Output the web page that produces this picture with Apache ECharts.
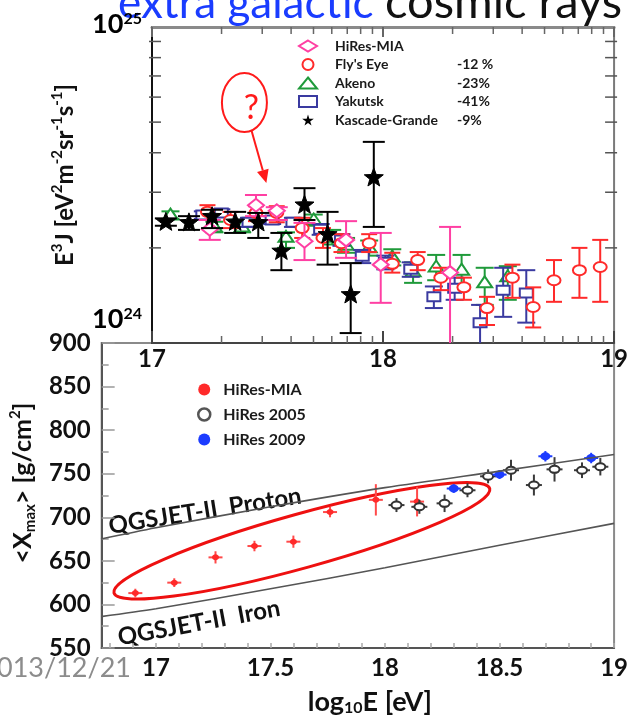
<!DOCTYPE html>
<html><head><meta charset="utf-8">
<script src="https://cdn.jsdelivr.net/npm/echarts@6/dist/echarts.min.js"></script>
<style>html,body{margin:0;padding:0;background:#fff;overflow:hidden}#c{width:631px;height:717px}</style>
</head><body><div id="c"></div><script>
const FONT = 'Lato, "Open Sans", "DejaVu Sans", sans-serif';

// ================= Top panel: E^3 J [eV^2 m^-2 sr^-1 s^-1] vs log10(E/eV) =================
const topXTicks = [17, 18, 19];
const topYTickValues = [1e24, 1e25];
const topYTickLabels = [['10', '24'], ['10', '25']];
const minorMultipliers = [2, 3, 4, 5, 6, 7, 8, 9];
const topDecadesX = [17, 18];

const legendNamesTop = ['HiRes-MIA', "Fly's Eye", 'Akeno', 'Yakutsk', 'Kascade-Grande'];
const legendShiftsTop = ['', '-12 %', '-23%', '-41%', '-9%'];

const hiresMiaX  = [17.25, 17.45, 17.54, 17.66, 17.84, 17.99, 18.29];
const hiresMiaY  = [2.29e24, 2.73e24, 2.62e24, 2.10e24, 2.12e24, 1.77e24, 1.67e24];
const hiresMiaLo = [2.12e24, 2.52e24, 2.45e24, 1.83e24, 1.86e24, 1.34e24, 0.98e24];
const hiresMiaHi = [2.45e24, 2.94e24, 2.69e24, 2.40e24, 2.43e24, 2.23e24, 2.33e24];

const flysEyeX  = [17.24, 17.34, 17.45, 17.54, 17.65, 17.74, 17.82, 17.94, 18.04, 18.15, 18.25, 18.35, 18.45, 18.56, 18.65, 18.74, 18.85, 18.94];
const flysEyeY  = [2.60e24, 2.45e24, 2.58e24, 2.58e24, 2.31e24, 2.15e24, 2.07e24, 2.07e24, 1.78e24, 1.83e24, 1.61e24, 1.50e24, 1.29e24, 1.61e24, 1.30e24, 1.58e24, 1.70e24, 1.74e24];
const flysEyeLo = [2.45e24, 2.31e24, 2.43e24, 2.41e24, 2.15e24, 2.00e24, 1.94e24, 1.94e24, 1.67e24, 1.70e24, 1.47e24, 1.37e24, 1.14e24, 1.39e24, 1.12e24, 1.35e24, 1.39e24, 1.35e24];
const flysEyeHi = [2.73e24, 2.60e24, 2.71e24, 2.71e24, 2.49e24, 2.31e24, 2.21e24, 2.21e24, 1.93e24, 1.94e24, 1.73e24, 1.61e24, 1.40e24, 1.77e24, 1.50e24, 1.83e24, 2.00e24, 2.12e24];

const akenoX  = [17.08, 17.27, 17.39, 17.58, 17.70, 17.78, 17.84, 17.94, 18.04, 18.13, 18.23, 18.34, 18.44, 18.54];
const akenoY  = [2.54e24, 2.33e24, 2.33e24, 2.16e24, 2.45e24, 2.16e24, 2.04e24, 2.00e24, 1.87e24, 1.68e24, 1.74e24, 1.70e24, 1.55e24, 1.62e24];
const akenoLo = [2.47e24, 2.24e24, 2.24e24, 2.00e24, 2.35e24, 2.05e24, 1.93e24, 1.89e24, 1.76e24, 1.55e24, 1.58e24, 1.53e24, 1.32e24, 1.37e24];
const akenoHi = [2.61e24, 2.42e24, 2.42e24, 2.24e24, 2.55e24, 2.28e24, 2.15e24, 2.11e24, 1.98e24, 1.80e24, 1.90e24, 1.90e24, 1.73e24, 1.75e24];

const yakutskX  = [17.22, 17.30, 17.42, 17.52, 17.61, 17.73, 17.82, 17.91, 18.01, 18.12, 18.22, 18.31, 18.42, 18.52, 18.62];
const yakutskY  = [2.54e24, 2.58e24, 2.41e24, 2.45e24, 2.41e24, 2.29e24, 2.12e24, 1.88e24, 1.80e24, 1.71e24, 1.40e24, 1.49e24, 1.16e24, 1.47e24, 1.44e24];
const yakutskLo = [2.47e24, 2.51e24, 2.33e24, 2.38e24, 2.33e24, 2.20e24, 2.03e24, 1.79e24, 1.71e24, 1.62e24, 1.29e24, 1.37e24, 0.98e24, 1.21e24, 1.16e24];
const yakutskHi = [2.61e24, 2.65e24, 2.49e24, 2.52e24, 2.49e24, 2.38e24, 2.21e24, 1.97e24, 1.89e24, 1.80e24, 1.51e24, 1.61e24, 1.32e24, 1.73e24, 1.70e24];

const kascadeX  = [17.06, 17.16, 17.26, 17.36, 17.46, 17.56, 17.66, 17.76, 17.86, 17.96];
const kascadeY  = [2.41e24, 2.40e24, 2.51e24, 2.41e24, 2.40e24, 1.95e24, 2.73e24, 2.20e24, 1.42e24, 3.33e24];
const kascadeLo = [2.35e24, 2.28e24, 2.31e24, 2.23e24, 2.15e24, 1.70e24, 2.45e24, 1.77e24, 1.075e24, 2.33e24];
const kascadeHi = [2.48e24, 2.52e24, 2.64e24, 2.60e24, 2.58e24, 2.23e24, 3.09e24, 2.60e24, 1.79e24, 4.33e24];

// ================= Bottom panel: <Xmax> [g/cm^2] vs log10(E/eV) =================
const xmaxTickLabels = [17, 17.5, 18, 18.5, 19];
const xmaxMinorTicks = [16.8, 16.9, 17.0, 17.1, 17.2, 17.3, 17.4, 17.5, 17.6, 17.7, 17.8, 17.9, 18.0, 18.1, 18.2, 18.3, 18.4, 18.5, 18.6, 18.7, 18.8, 18.9, 19.0];
const legendNamesBottom = ['HiRes-MIA', 'HiRes 2005', 'HiRes 2009'];

const miaXmaxX   = [16.91, 17.08, 17.26, 17.43, 17.60, 17.76, 17.96, 18.14];
const miaXmaxY   = [613, 625, 654, 667, 672, 706, 720, 718];
const miaXmaxErr = [5, 5, 7, 6, 7, 6, 18, 17];

const hr05X   = [18.05, 18.15, 18.26, 18.36, 18.45, 18.55, 18.65, 18.74, 18.86, 18.94];
const hr05Y   = [714, 712, 716, 731, 747, 754, 737, 755, 754, 758];
const hr05Err = [8, 8, 10, 8, 8, 12, 12, 14, 9, 10];

const hr09X   = [18.30, 18.50, 18.70, 18.90];
const hr09Y   = [733, 749, 770, 768];
const hr09Err = [5, 5, 6, 6];

const protonX = [16.76, 17.0, 17.5, 18.0, 18.5, 19.0];
const protonY = [675, 688, 712, 734, 753, 772];
const ironX   = [16.76, 17.0, 17.5, 18.0, 18.5, 19.0];
const ironY   = [586, 595, 618, 642, 668, 693];

// annotation anchors (data coordinates)
const questionCenter = [17.40, 5.77e24];
const arrowFrom = [17.43, 4.72e24];
const arrowTo = [17.495, 3.21e24];
const ellipseCenter = [17.637, 673];

function zip(...arrs) { return arrs[0].map((_, i) => arrs.map(a => a[i])); }

const COL = { mia: '#ff3fa3', fe: '#ff2a2a', ak: '#1f9a3a', yk: '#3a3aa0', kg: '#000000' };

function topSymbol(kind, cx, cy, color) {
  const st = { fill: '#fff', stroke: color, lineWidth: 2 };
  if (kind === 'diamond') return { type: 'polygon', shape: { points: [[cx, cy - 6.5], [cx + 8, cy], [cx, cy + 6.5], [cx - 8, cy]] }, style: st };
  if (kind === 'circle') return { type: 'ellipse', shape: { cx: cx, cy: cy, rx: 6.5, ry: 5 }, style: st };
  if (kind === 'triangle') return { type: 'polygon', shape: { points: [[cx, cy - 6.5], [cx + 7.5, cy + 4.5], [cx - 7.5, cy + 4.5]] }, style: st };
  if (kind === 'square') return { type: 'rect', shape: { x: cx - 6.5, y: cy - 4.5, width: 13, height: 9 }, style: st };
  const pts = [];
  for (let k = 0; k < 10; k++) {
    const r = k % 2 === 0 ? 10 : 4.2;
    const a = -Math.PI / 2 + k * Math.PI / 5;
    pts.push([cx + r * Math.cos(a), cy + r * Math.sin(a)]);
  }
  return { type: 'polygon', shape: { points: pts }, style: { fill: color, stroke: color, lineWidth: 1 } };
}

function makeTopRender(kind, color, cap) {
  return function (params, api) {
    const x = api.value(0);
    const c = api.coord([x, api.value(1)]);
    const lo = api.coord([x, api.value(2)]);
    const hi = api.coord([x, api.value(3)]);
    const st = { stroke: color, lineWidth: 2 };
    return { type: 'group', children: [
      { type: 'line', shape: { x1: c[0], y1: lo[1], x2: c[0], y2: hi[1] }, style: st },
      { type: 'line', shape: { x1: c[0] - cap, y1: lo[1], x2: c[0] + cap, y2: lo[1] }, style: st },
      { type: 'line', shape: { x1: c[0] - cap, y1: hi[1], x2: c[0] + cap, y2: hi[1] }, style: st },
      topSymbol(kind, c[0], c[1], color)
    ] };
  };
}

function makeXmaxRender(kind) {
  return function (params, api) {
    const x = api.value(0), y = api.value(1), e = api.value(2);
    const c = api.coord([x, y]);
    const lo = api.coord([x, y - e]);
    const hi = api.coord([x, y + e]);
    let barCol, hx, sym;
    if (kind === 'mia') {
      barCol = '#ff4a4a'; hx = 7;
      sym = { type: 'ellipse', shape: { cx: c[0], cy: c[1], rx: 3.5, ry: 3 }, style: { fill: '#ff2a2a' } };
    } else if (kind === 'hr05') {
      barCol = '#3a3a3a'; hx = 8;
      sym = { type: 'ellipse', shape: { cx: c[0], cy: c[1], rx: 5, ry: 3.5 }, style: { fill: '#fff', stroke: '#333', lineWidth: 2 } };
    } else {
      barCol = '#1c3cff'; hx = 7;
      sym = { type: 'ellipse', shape: { cx: c[0], cy: c[1], rx: 5, ry: 4 }, style: { fill: '#1c3cff' } };
    }
    const st = { stroke: barCol, lineWidth: 2 };
    return { type: 'group', children: [
      { type: 'line', shape: { x1: c[0], y1: lo[1], x2: c[0], y2: hi[1] }, style: st },
      { type: 'line', shape: { x1: c[0] - hx, y1: c[1], x2: c[0] + hx, y2: c[1] }, style: st },
      sym
    ] };
  };
}

// minor tick marks of the log axes of the top panel
const xMinorTickData = [];
topDecadesX.forEach(d => minorMultipliers.forEach(m => xMinorTickData.push([d + Math.log10(m), 2e24])));
const yMinorTickData = minorMultipliers.map(m => [18, m * 1e24]);

function renderXMinor(params, api) {
  const cs = params.coordSys;
  const px = api.coord([api.value(0), api.value(1)])[0];
  const st = { stroke: '#666', lineWidth: 1.5 };
  return { type: 'group', children: [
    { type: 'line', shape: { x1: px, y1: cs.y, x2: px, y2: cs.y + 7 }, style: st },
    { type: 'line', shape: { x1: px, y1: cs.y + cs.height, x2: px, y2: cs.y + cs.height - 7 }, style: st }
  ] };
}
function renderYMinor(params, api) {
  const cs = params.coordSys;
  const py = api.coord([api.value(0), api.value(1)])[1];
  const st = { stroke: '#555', lineWidth: 1.5 };
  return { type: 'group', children: [
    { type: 'line', shape: { x1: cs.x - 3, y1: py, x2: cs.x + 9, y2: py }, style: st },
    { type: 'line', shape: { x1: cs.x + cs.width + 3, y1: py, x2: cs.x + cs.width - 9, y2: py }, style: st }
  ] };
}

const starPath = 'path://M50,0 L61,35 L98,35 L68,57 L79,91 L50,70 L21,91 L32,57 L2,35 L39,35 Z';
const topIcons = ['diamond', 'circle', 'triangle', 'rect', starPath];
const topIconColors = [COL.mia, COL.fe, COL.ak, COL.yk, COL.kg];
const shiftOf = {};
legendNamesTop.forEach((n, i) => shiftOf[n] = legendShiftsTop[i]);

const chart = echarts.init(document.getElementById('c'), null, { renderer: 'canvas', width: 631, height: 717 });

const option = {
  animation: false,
  backgroundColor: '#fff',
  textStyle: { fontFamily: FONT },
  grid: [
    { left: 152, top: 27, width: 465, height: 316, show: true, borderColor: '#7a7a7a', borderWidth: 2, backgroundColor: 'transparent' },
    { left: 97, top: 343, width: 520, height: 305, show: true, borderColor: '#8a8a8a', borderWidth: 2, backgroundColor: 'transparent' }
  ],
  xAxis: [
    { type: 'value', gridIndex: 0, min: 17, max: 19, interval: 1, position: 'bottom',
      axisLine: { lineStyle: { color: '#444', width: 2 } },
      axisTick: { inside: true, length: 12, lineStyle: { color: '#444', width: 2 } },
      axisLabel: { fontSize: 24, fontWeight: 'bold', color: '#111', margin: 4, fontFamily: FONT },
      splitLine: { show: false } },
    { type: 'value', gridIndex: 0, min: 17, max: 19, interval: 1, position: 'top',
      axisLine: { lineStyle: { color: '#8a8a8a', width: 3 } },
      axisTick: { inside: true, length: 10, lineStyle: { color: '#666', width: 2 } },
      axisLabel: { show: false }, splitLine: { show: false } },
    { type: 'value', gridIndex: 1, min: 16.763, max: 19, position: 'bottom',
      axisLine: { lineStyle: { color: '#555', width: 2 } },
      axisTick: { inside: true, length: 5, customValues: xmaxMinorTicks, lineStyle: { color: '#aaa', width: 1.5 } },
      axisLabel: { customValues: xmaxTickLabels, fontSize: 24, fontWeight: 'bold', color: '#111', margin: 8, fontFamily: FONT,
                   formatter: v => String(v) },
      splitLine: { show: false },
      name: 'log{sub|10}E [eV]', nameLocation: 'middle', nameGap: 40,
      nameTextStyle: { fontSize: 27, fontWeight: 'bold', color: '#111', fontFamily: FONT, padding: [0, 0, 0, 24],
        rich: { sub: { fontSize: 16, fontWeight: 'bold', color: '#111', verticalAlign: 'bottom', padding: [12, 0, 0, 0] } } } }
  ],
  yAxis: [
    { type: 'log', logBase: 10, gridIndex: 0, min: topYTickValues[0], max: topYTickValues[1],
      axisLine: { lineStyle: { color: '#111', width: 2 } },
      axisTick: { show: false }, axisLabel: { show: false }, splitLine: { show: false }, minorTick: { show: false },
      name: 'E{sup|3}J [eV{sup|2}m{sup|-2}sr{sup|-1}s{sup|-1}]', nameLocation: 'middle', nameRotate: 90, nameGap: 72,
      nameTextStyle: { fontSize: 24, fontWeight: 'bold', color: '#111', fontFamily: FONT, lineHeight: 30, padding: [0, 0, 0, 20],
        rich: { sup: { fontSize: 15, fontWeight: 'bold', color: '#111', verticalAlign: 'top', lineHeight: 30 } } } },
    { type: 'value', gridIndex: 1, min: 550, max: 900, interval: 50,
      axisLine: { lineStyle: { color: '#555', width: 2 } },
      axisTick: { inside: true, length: 13, lineStyle: { color: '#999', width: 1.5 } },
      minorTick: { show: true, splitNumber: 2, length: 7, lineStyle: { color: '#999', width: 1.5 } },
      axisLabel: { fontSize: 24, fontWeight: 'bold', color: '#111', margin: 11, fontFamily: FONT },
      splitLine: { show: false },
      name: '<X{sub|max}> [g/cm{sup|2}]', nameLocation: 'middle', nameRotate: 90, nameGap: 56,
      nameTextStyle: { fontSize: 25, fontWeight: 'bold', color: '#111', fontFamily: FONT, lineHeight: 30, padding: [0, 0, 0, 25],
        rich: { sub: { fontSize: 15, fontWeight: 'bold', color: '#111', verticalAlign: 'bottom', lineHeight: 30 },
                sup: { fontSize: 15, fontWeight: 'bold', color: '#111', verticalAlign: 'top', lineHeight: 30 } } } }
  ],
  legend: [
    { orient: 'vertical', left: 293, top: 34, itemWidth: 18, itemHeight: 11, itemGap: 4.5, selectedMode: false,
      data: legendNamesTop.map((n, i) => ({ name: n, icon: topIcons[i],
        itemStyle: i === 4 ? { color: '#000', borderColor: '#000', borderWidth: 0 } : { color: '#fff', borderColor: topIconColors[i], borderWidth: 2 } })),
      formatter: n => '{n|' + n + '}{p|' + shiftOf[n] + '}',
      textStyle: { rich: {
        n: { width: 122, fontSize: 14, fontWeight: 'bold', color: '#1a1a1a', fontFamily: FONT, padding: [0, 0, 0, 13], lineHeight: 18 },
        p: { fontSize: 14, fontWeight: 'bold', color: '#1a1a1a', fontFamily: FONT, lineHeight: 18 } } } },
    { orient: 'vertical', left: 192, top: 375, itemWidth: 16, itemHeight: 12, itemGap: 6, selectedMode: false,
      data: [
        { name: legendNamesBottom[0], icon: 'circle', itemStyle: { color: '#ff2a2a', borderWidth: 0 } },
        { name: legendNamesBottom[1], icon: 'circle', itemStyle: { color: '#fff', borderColor: '#555', borderWidth: 2.5 } },
        { name: legendNamesBottom[2], icon: 'circle', itemStyle: { color: '#1c3cff', borderWidth: 0 } }
      ],
      textStyle: { fontSize: 16, fontWeight: 'bold', color: '#1a1a1a', fontFamily: FONT, lineHeight: 19, padding: [0, 0, 0, 6] } }
  ],
  series: [
    { type: 'custom', name: 'xminor', xAxisIndex: 0, yAxisIndex: 0, silent: true, clip: false, data: xMinorTickData, renderItem: renderXMinor, encode: { x: 0, y: 1 }, z: 5 },
    { type: 'custom', name: 'yminor', xAxisIndex: 0, yAxisIndex: 0, silent: true, clip: false, data: yMinorTickData, renderItem: renderYMinor, encode: { x: 0, y: 1 }, z: 5 },
    { type: 'custom', name: 'Akeno', xAxisIndex: 0, yAxisIndex: 0, clip: true, silent: true,
      data: zip(akenoX, akenoY, akenoLo, akenoHi), renderItem: makeTopRender('triangle', COL.ak, 9), encode: { x: 0, y: 1 } },
    { type: 'custom', name: 'Yakutsk', xAxisIndex: 0, yAxisIndex: 0, clip: true, silent: true,
      data: zip(yakutskX, yakutskY, yakutskLo, yakutskHi), renderItem: makeTopRender('square', COL.yk, 9), encode: { x: 0, y: 1 } },
    { type: 'custom', name: "Fly's Eye", xAxisIndex: 0, yAxisIndex: 0, clip: true, silent: true,
      data: zip(flysEyeX, flysEyeY, flysEyeLo, flysEyeHi), renderItem: makeTopRender('circle', COL.fe, 8), encode: { x: 0, y: 1 } },
    { type: 'custom', name: 'HiRes-MIA', xAxisIndex: 0, yAxisIndex: 0, clip: true, silent: true,
      data: zip(hiresMiaX, hiresMiaY, hiresMiaLo, hiresMiaHi), renderItem: makeTopRender('diamond', COL.mia, 11), encode: { x: 0, y: 1 } },
    { type: 'custom', name: 'Kascade-Grande', xAxisIndex: 0, yAxisIndex: 0, clip: true, silent: true,
      data: zip(kascadeX, kascadeY, kascadeLo, kascadeHi), renderItem: makeTopRender('star', COL.kg, 11), encode: { x: 0, y: 1 } },

    { type: 'line', name: 'QGSJET-II Proton', xAxisIndex: 2, yAxisIndex: 1, data: zip(protonX, protonY), smooth: 0.3, showSymbol: false, silent: true, clip: true,
      lineStyle: { color: '#555', width: 1.6 } },
    { type: 'line', name: 'QGSJET-II Iron', xAxisIndex: 2, yAxisIndex: 1, data: zip(ironX, ironY), smooth: 0.3, showSymbol: false, silent: true, clip: true,
      lineStyle: { color: '#555', width: 1.6 } },
    { type: 'custom', name: 'HiRes-MIA', xAxisIndex: 2, yAxisIndex: 1, clip: true, silent: true,
      data: zip(miaXmaxX, miaXmaxY, miaXmaxErr), renderItem: makeXmaxRender('mia'), encode: { x: 0, y: 1 } },
    { type: 'custom', name: 'HiRes 2005', xAxisIndex: 2, yAxisIndex: 1, clip: true, silent: true,
      data: zip(hr05X, hr05Y, hr05Err), renderItem: makeXmaxRender('hr05'), encode: { x: 0, y: 1 } },
    { type: 'custom', name: 'HiRes 2009', xAxisIndex: 2, yAxisIndex: 1, clip: true, silent: true,
      data: zip(hr09X, hr09Y, hr09Err), renderItem: makeXmaxRender('hr09'), encode: { x: 0, y: 1 } }
  ]
};
chart.setOption(option);

// ---------- annotations positioned through the axes ----------
const toTop = v => chart.convertToPixel({ xAxisIndex: 0, yAxisIndex: 0 }, v);
const toBot = v => chart.convertToPixel({ xAxisIndex: 2, yAxisIndex: 1 }, v);
const qc = toTop(questionCenter);
const a0 = toTop(arrowFrom), a1 = toTop(arrowTo);
const ang = Math.atan2(a1[1] - a0[1], a1[0] - a0[0]);
const headL = 13, headW = 6;
const hb = [a1[0] - headL * Math.cos(ang), a1[1] - headL * Math.sin(ang)];
const head = [
  [a1[0], a1[1]],
  [hb[0] + headW * Math.sin(ang), hb[1] - headW * Math.cos(ang)],
  [hb[0] - headW * Math.sin(ang), hb[1] + headW * Math.cos(ang)]
];
const ec = toBot(ellipseCenter);
const y24 = toTop([17, topYTickValues[0]])[1];
const y25 = toTop([17, topYTickValues[1]])[1];
const tickLabelRich = { b: { fontSize: 27, fontWeight: 'bold', fontFamily: FONT, color: '#111' }, s: { fontSize: 16, fontWeight: 'bold', fontFamily: FONT, color: '#111', verticalAlign: 'top', padding: [0, 0, 10, 0] } };

chart.setOption({
  graphic: [
    { type: 'text', x: 118, y: 4, silent: true,
      style: { text: 'extra galactic', verticalAlign: 'middle', fontSize: 44, fontFamily: FONT, fill: '#1a3cff' } },
    { type: 'text', x: 385, y: 3, silent: true,
      style: { text: 'cosmic rays', verticalAlign: 'middle', fontSize: 47, fontFamily: FONT, fill: '#111' } },
    { type: 'text', x: 142, y: y25 - 3, silent: true,
      style: { text: '{b|' + topYTickLabels[1][0] + '}{s|' + topYTickLabels[1][1] + '}', align: 'right', verticalAlign: 'middle', rich: tickLabelRich } },
    { type: 'text', x: 142, y: y24 - 24, silent: true,
      style: { text: '{b|' + topYTickLabels[0][0] + '}{s|' + topYTickLabels[0][1] + '}', align: 'right', verticalAlign: 'middle', rich: tickLabelRich } },
    { type: 'ellipse', silent: true, shape: { cx: qc[0], cy: qc[1], rx: 22.5, ry: 29.5 }, style: { fill: 'none', stroke: '#ff1a1a', lineWidth: 2 } },
    { type: 'text', x: qc[0] + 7, y: qc[1] + 6, silent: true,
      style: { text: '?', align: 'center', verticalAlign: 'middle', fontSize: 34, fontFamily: FONT, fill: '#ff1a1a' } },
    { type: 'line', silent: true, shape: { x1: a0[0], y1: a0[1], x2: hb[0], y2: hb[1] }, style: { stroke: '#ff1a1a', lineWidth: 2 } },
    { type: 'polygon', silent: true, shape: { points: head }, style: { fill: '#ff1a1a' } },
    { type: 'ellipse', silent: true, x: ec[0], y: ec[1], rotation: 15.5 * Math.PI / 180,
      shape: { cx: 0, cy: 0, rx: 195, ry: 27 }, style: { fill: 'none', stroke: '#ee1010', lineWidth: 3 } },
    { type: 'text', x: 205, y: 511, rotation: 9 * Math.PI / 180, silent: true,
      style: { text: 'QGSJET-II  Proton', align: 'center', verticalAlign: 'middle', fontSize: 24, fontWeight: 'bold', fontFamily: FONT, fill: '#111' } },
    { type: 'text', x: 199, y: 623, rotation: 10.5 * Math.PI / 180, silent: true,
      style: { text: 'QGSJET-II  Iron', align: 'center', verticalAlign: 'middle', fontSize: 24, fontWeight: 'bold', fontFamily: FONT, fill: '#111' } },
    { type: 'text', x: 131, y: 668, silent: true,
      style: { text: '2013/12/21', align: 'right', verticalAlign: 'middle', fontSize: 27, fontFamily: FONT, fill: '#8c8c8c' } }
  ]
});
</script></body></html>
